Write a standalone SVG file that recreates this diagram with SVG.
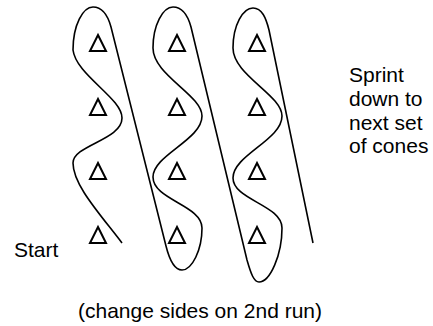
<svg xmlns="http://www.w3.org/2000/svg" width="433" height="326" viewBox="0 0 433 326">
<style>
.bg{fill:#fff}
.route{fill:none;stroke:#000;stroke-width:1.6;stroke-linecap:butt;stroke-linejoin:round}
.cone{fill:none;stroke:#000;stroke-width:2}
.lbl{font-family:"Liberation Sans",Arial,sans-serif;font-size:21px;fill:#000}
</style>
<rect class="bg" x="0" y="0" width="433" height="326"/>
<g id="connectors">
<path class="route" d="M122,243 C100,214 73,185 73,163 C73,145 122,140 122,118 C122,98 76,75 73,50 C73,25 83,7 93,7 C103,7 108,16 111,27 L166,246 C170,262 176,270 182,270 C192,270 202,250 202,228 C202,205 153,200 153,177 C153,155 202,140 202,116 C202,95 153,75 153,48 C153,25 163,7 173,7 C183,7 188,16 191,27 L247,260 C251,274 254,282 259,282 C270,282 282,255 282,228 C282,205 233,200 233,178 C233,155 282,140 282,116 C282,95 233,75 233,48 C233,25 243,8 253,8 C262,8 266,18 269,30 L313,243"/>
</g>
<g id="cones-col1">
<polygon class="cone" points="98,35 106,51 90,51"/>
<polygon class="cone" points="98,99 106,115 90,115"/>
<polygon class="cone" points="98,163 106,179 90,179"/>
<polygon class="cone" points="98,227 106,243 90,243"/>
</g>
<g id="cones-col2">
<polygon class="cone" points="177,35 185,51 169,51"/>
<polygon class="cone" points="177,99 185,115 169,115"/>
<polygon class="cone" points="177,163 185,179 169,179"/>
<polygon class="cone" points="177,227 185,243 169,243"/>
</g>
<g id="cones-col3">
<polygon class="cone" points="257,35 265,51 249,51"/>
<polygon class="cone" points="257,99 265,115 249,115"/>
<polygon class="cone" points="257,163 265,179 249,179"/>
<polygon class="cone" points="257,227 265,243 249,243"/>
</g>
<g id="label-start"><text class="lbl" x="14" y="257">Start</text></g>
<g id="label-sprint">
<text class="lbl" x="349" y="82">Sprint</text>
<text class="lbl" x="349" y="106">down to</text>
<text class="lbl" x="349" y="130">next set</text>
<text class="lbl" x="349" y="153">of cones</text>
</g>
<g id="label-note"><text class="lbl" x="78" y="318">(change sides on 2nd run)</text></g>
</svg>
